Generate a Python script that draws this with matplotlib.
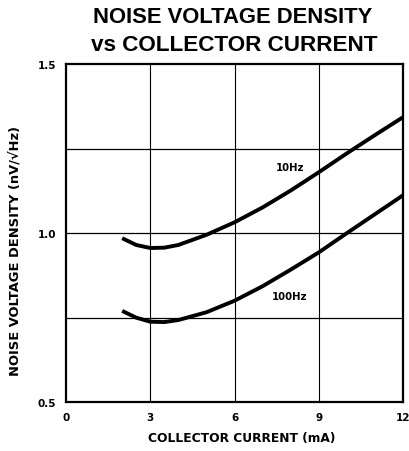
import matplotlib
matplotlib.use("Agg")
import matplotlib.pyplot as plt

# Curve data
current_ma = [2.0, 2.5, 3.0, 3.5, 4.0, 5.0, 6.0, 7.0, 8.0, 9.0, 10.0, 11.0, 12.0]
noise_10hz = [0.985, 0.965, 0.956, 0.957, 0.965, 0.995, 1.032, 1.076, 1.126, 1.180, 1.236, 1.290, 1.343]
noise_100hz = [0.770, 0.750, 0.738, 0.737, 0.743, 0.766, 0.800, 0.843, 0.892, 0.943, 1.000, 1.056, 1.112]

x_ticks = [0, 3, 6, 9, 12]
y_ticks = [0.5, 1.0, 1.5]
y_grid = [0.75, 1.0, 1.25]

plt.rcParams["font.family"] = ["DejaVu Sans"]

fig = plt.figure(figsize=(4.10, 4.52), dpi=100)
ax = fig.add_axes([0.161, 0.108, 0.822, 0.748])

# Curves
ax.plot(current_ma, noise_10hz, color="black", linewidth=2.8, solid_capstyle="butt")
ax.plot(current_ma, noise_100hz, color="black", linewidth=2.8, solid_capstyle="butt")

# Curve labels
ax.text(7.97, 1.195, "10Hz", fontsize=7.3, fontweight="bold", ha="center", va="center")
ax.text(7.97, 0.815, "100Hz", fontsize=7.3, fontweight="bold", ha="center", va="center")

# Grid lines
for xv in x_ticks[1:-1]:
    ax.axvline(xv, color="black", linewidth=0.8)
for yv in y_grid:
    ax.axhline(yv, color="black", linewidth=0.9)

ax.set_xlim(0, 12)
ax.set_ylim(0.5, 1.5)
ax.set_xticks(x_ticks)
ax.set_xticklabels([str(v) for v in x_ticks])
ax.set_yticks(y_ticks)
ax.set_yticklabels([f"{v:.1f}" for v in y_ticks])
ax.tick_params(length=0, labelsize=7.5, pad=7)
for lab in ax.get_xticklabels() + ax.get_yticklabels():
    lab.set_fontweight("bold")

for spine in ax.spines.values():
    spine.set_linewidth(1.6)

ax.set_xlabel("COLLECTOR CURRENT (mA)", fontsize=8.8, fontweight="bold")
ax.xaxis.set_label_coords(0.522, -0.085)
ax.set_ylabel("NOISE VOLTAGE DENSITY (nV/\u221aHz)", fontsize=9.4, fontweight="bold")
ax.yaxis.set_label_coords(-0.13, 0.45)

# Title in two lines
fig.text(0.567, 0.962, "NOISE VOLTAGE DENSITY", fontsize=15.8, fontweight="bold",
         ha="center", va="center", family="Liberation Sans")
fig.text(0.572, 0.899, "vs COLLECTOR CURRENT", fontsize=16.2, fontweight="bold",
         ha="center", va="center", family="Liberation Sans")

fig.savefig("out.png", dpi=100)
